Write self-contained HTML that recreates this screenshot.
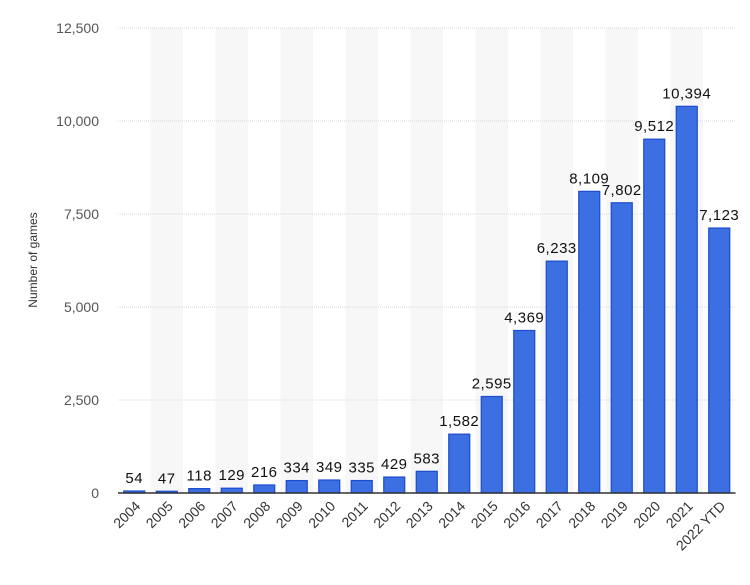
<!DOCTYPE html>
<html><head><meta charset="utf-8"><style>
body{margin:0;background:#fff;font-family:"Liberation Sans",sans-serif}
</style></head><body>
<svg id="chart" width="750" height="580" xmlns="http://www.w3.org/2000/svg"></svg>
<script>
const categories=["2004","2005","2006","2007","2008","2009","2010","2011","2012","2013","2014","2015","2016","2017","2018","2019","2020","2021","2022 YTD"];
const values=[54,47,118,129,216,334,349,335,429,583,1582,2595,4369,6233,8109,7802,9512,10394,7123];
const yTicks=[0,2500,5000,7500,10000,12500];
const L=118,R=735.5,T=28,B=493,maxY=12500;
const band=(R-L)/categories.length;
const xs=i=>L+band*i;
const ys=v=>B-(v/maxY)*(B-T);
const svg=document.getElementById('chart');
const NS="http://www.w3.org/2000/svg";
function mk(t,a){const e=document.createElementNS(NS,t);for(const k in a)e.setAttribute(k,a[k]);svg.appendChild(e);return e;}
const fmt=v=>v.toLocaleString('en-US');
categories.forEach((c,i)=>{if(i%2==1){const s=mk('rect',{x:xs(i),y:T,width:band,height:B-T,fill:'#f7f7f7'});

}});
yTicks.forEach(t=>{
 if(t>0){const g=mk('line',{x1:L,x2:R,y1:ys(t),y2:ys(t),stroke:'#d8d8d8','stroke-dasharray':'1,1'});
 
 }
 const tx=mk('text',{x:99,y:ys(t)+5,'text-anchor':'end','font-size':'14',fill:'#555'});tx.textContent=fmt(t);
 
 
});
categories.forEach((c,i)=>{
 const v=values[i],cx=xs(i)+band/2,w=21;
 const r=mk('rect',{x:cx-w/2,y:ys(v),width:w,height:B-ys(v),fill:'#3b6fe2',stroke:'#1d4ccc','stroke-width':'1.2'});
 
 
 const lb=mk('text',{x:cx,y:ys(v)-8,'text-anchor':'middle','font-size':'15',fill:'#111','letter-spacing':'0.5'});lb.textContent=fmt(v);
 
 
 const xl=mk('text',{x:cx+7,y:B+14,'text-anchor':'end','font-size':'14',fill:'#333',transform:`rotate(-45 ${cx+7} ${B+14})`});xl.textContent=c;
 
 
});
const ax=mk('line',{x1:L,x2:R,y1:B,y2:B,stroke:'#333','stroke-width':'1.5'});


const yt=mk('text',{x:37,y:260,'text-anchor':'middle','font-size':'12',fill:'#333',transform:'rotate(-90 37 260)'});yt.textContent='Number of games';


</script>
</body></html>
